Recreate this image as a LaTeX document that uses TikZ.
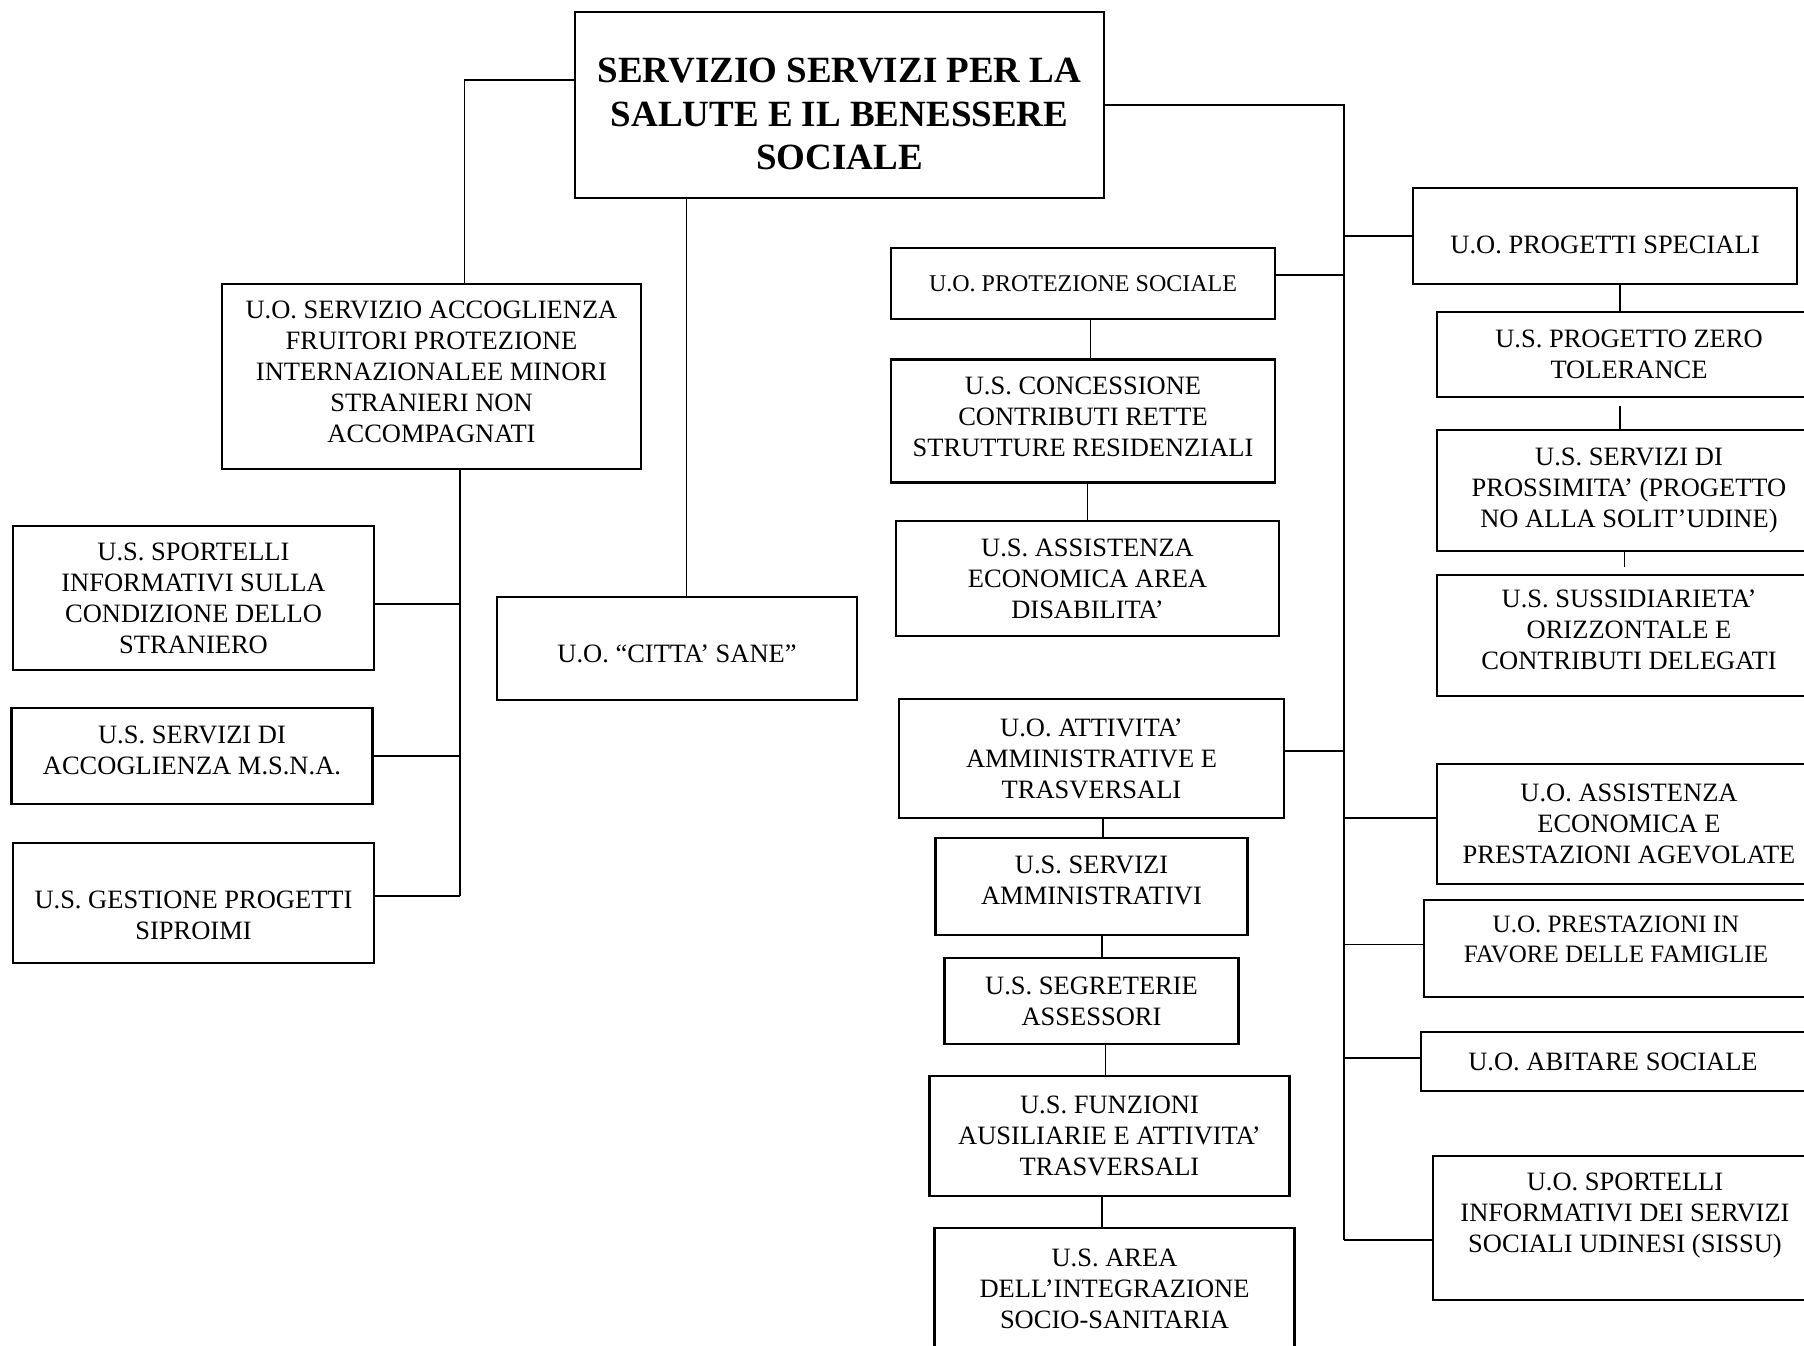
\documentclass[tikz,border=0pt]{standalone}
\usepackage{fontspec}
\setmainfont{Liberation Serif}
\usetikzlibrary{positioning}

% invisible struts to move a label inside its box
\newcommand{\padtop}[1]{\rule{0pt}{#1}}
\newcommand{\padbot}[1]{\rule[-#1]{0pt}{0pt}}

\begin{document}
\begin{tikzpicture}[
    x=1pt, y=-1pt,
    box/.style={rectangle, draw, line width=2.4pt, outer sep=0pt, align=center, inner sep=2pt, font=\fontsize{26.5}{31}\selectfont},
    head/.style={box, line width=2.6pt, font=\bfseries\fontsize{37}{43.3}\selectfont},
    wh/.style 2 args={minimum width=#1pt, minimum height=#2pt},
    link/.style={line width=1.8pt},
]
\useasboundingbox (0,0) rectangle (1804,1345);

\node[head, wh={529}{186}, anchor=north west] (main) at (575,12) {\padtop{42.5pt}SERVIZIO SERVIZI PER LA\\SALUTE E IL BENESSERE\\SOCIALE};

% left branch
\node[box, wh={419}{185}, anchor=north west] (accog) at (222,284) {U.O. SERVIZIO ACCOGLIENZA\\FRUITORI PROTEZIONE\\INTERNAZIONALEE MINORI\\STRANIERI NON\\ACCOMPAGNATI\padbot{8.6pt}};
\node[box, wh={361}{144}, anchor=north west] (sport) at (13,526) {U.S. SPORTELLI\\INFORMATIVI SULLA\\CONDIZIONE DELLO\\STRANIERO};
\node[box, wh={361}{96},  anchor=north west] (msna)  at (11.5,708) {U.S. SERVIZI DI\\ACCOGLIENZA M.S.N.A.\padbot{11.6pt}};
\node[box, wh={361}{120}, anchor=north west] (gest)  at (13,843) {\padtop{43pt}U.S. GESTIONE PROGETTI\\SIPROIMI};
\node[box, wh={360}{103}, anchor=north west] (citta) at (497,597) {\padtop{29.3pt}U.O. “CITTA’ SANE”};

% middle column
\node[box, wh={384}{71}, anchor=north west, font=\fontsize{24}{28}\selectfont] (protez) at (891,248) {U.O. PROTEZIONE SOCIALE};
\node[box, wh={384}{123}, below=40.5pt of protez]             (concess) {U.S. CONCESSIONE\\CONTRIBUTI RETTE\\STRUTTURE RESIDENZIALI\padbot{8.8pt}};
\node[box, wh={383}{115}, below=38.5pt of concess, xshift=4.5pt] (disab) {U.S. ASSISTENZA\\ECONOMICA AREA\\DISABILITA’};

\node[box, wh={385}{119}, anchor=north west] (attiv) at (899,699) {U.O. ATTIVITA’\\AMMINISTRATIVE E\\TRASVERSALI};
\node[box, wh={312}{97},  below=20pt of attiv]              (servamm) {U.S. SERVIZI\\AMMINISTRATIVI\padbot{12.8pt}};
\node[box, wh={294}{86},  below=23pt of servamm]            (segr)    {U.S. SEGRETERIE\\ASSESSORI};
\node[box, wh={360}{120}, below=32pt of segr, xshift=18pt]  (funz)    {U.S. FUNZIONI\\AUSILIARIE E ATTIVITA’\\TRASVERSALI};
\node[box, wh={360}{122}, below=32pt of funz, xshift=5pt]   (area)    {U.S. AREA\\DELL’INTEGRAZIONE\\SOCIO-SANITARIA};

% right column
\node[box, wh={384}{96}, anchor=north west] (progsp) at (1413,188) {\padtop{36pt}U.O. PROGETTI SPECIALI};
\node[box, wh={384}{85},  below=28pt of progsp, xshift=24pt] (zero)   {U.S. PROGETTO ZERO\\TOLERANCE};
\node[box, wh={384}{121}, below=33pt of zero]                (pross)  {U.S. SERVIZI DI\\PROSSIMITA’ (PROGETTO\\NO ALLA SOLIT’UDINE)};
\node[box, wh={384}{121}, below=24pt of pross]               (sussid) {U.S. SUSSIDIARIETA’\\ORIZZONTALE E\\CONTRIBUTI DELEGATI\padbot{11.2pt}};

\node[box, wh={384}{120}, anchor=north west] (asseco) at (1437,764) {U.O. ASSISTENZA\\ECONOMICA E\\PRESTAZIONI AGEVOLATE};
\node[box, wh={384}{97},  anchor=north west, font=\fontsize{25}{30}\selectfont] (famig) at (1424,900) {U.O. PRESTAZIONI IN\\FAVORE DELLE FAMIGLIE\padbot{17.6pt}};
\node[box, wh={384}{59},  anchor=north west] (abit)  at (1421,1032) {U.O. ABITARE SOCIALE};
\node[box, wh={384}{144}, anchor=north west] (sissu) at (1433,1156) {U.O. SPORTELLI\\INFORMATIVI DEI SERVIZI\\SOCIALI UDINESI (SISSU)\padbot{31.3pt}};

% left branch links
\coordinate (lbus) at (460,896);
\draw[link] ([yshift=25pt]main.west) -| ([xshift=33pt]accog.north);
\draw[link] ([xshift=28.5pt]accog.south) -- (lbus);
\draw[link] ([yshift=-6pt]sport.east) -| (lbus);
\draw[link] (msna.east) -| (lbus);
\draw[link] (gest.east |- lbus) -- (lbus);

% centre link
\coordinate (ctop) at ([xshift=-153pt]main.south);
\draw[link] (ctop) -- (ctop |- citta.north);

% right trunk
\coordinate (trunk)    at (1344,105);
\coordinate (trunkend) at (1344,1240);
\draw[link] (main.east) -- (trunk) -- (trunkend);
\draw[link] ([yshift=8.5pt]protez.east) -| (trunk);
\draw[link] ([yshift=7.5pt]attiv.east)  -| (trunk);
\draw[link] (progsp.west) -| (trunk);
\draw[link] ([yshift=6pt]asseco.west) -| (trunk);
\draw[link] ([yshift=4pt]famig.west)  -| (trunk);
\draw[link] ([yshift=3.5pt]abit.west) -| (trunk);
\draw[link] (sissu.west |- trunkend) -- (trunkend);

% stacks
\draw[link] ([xshift=7.5pt]protez.south) -- ([xshift=7.5pt]concess.north);
\draw[link] (disab.north |- concess.south) -- (disab.north);
\draw[link] ([xshift=11.5pt]servamm.north |- attiv.south) -- ([xshift=11.5pt]servamm.north);
\draw[link] ([xshift=10.5pt]segr.north |- servamm.south) -- ([xshift=10.5pt]segr.north);
\draw[link] ([xshift=-4pt]funz.north |- segr.south) -- ([xshift=-4pt]funz.north);
\draw[link] ([xshift=-7.5pt]funz.south) -- ([xshift=-7.5pt]funz.south |- area.north);
\draw[link] ([xshift=-9pt]zero.north |- progsp.south) -- ([xshift=-9pt]zero.north);
\draw[link, shorten <=9pt] ([xshift=-9pt]zero.south) -- ([xshift=-9pt]pross.north);
\draw[link, shorten >=8pt] ([xshift=-4.5pt]pross.south) -- ([xshift=-4.5pt]sussid.north);

\end{tikzpicture}
\end{document}
